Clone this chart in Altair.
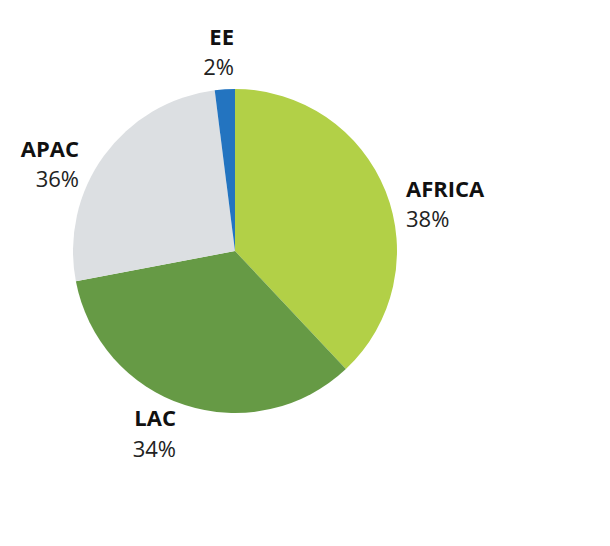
import altair as alt
import pandas as pd

regions = ["AFRICA", "LAC", "APAC", "EE"]
shares = [38, 34, 26, 2]
pct_labels = ["38%", "34%", "36%", "2%"]
colors = ["#b2d047", "#669a45", "#dcdfe2", "#2374c0"]

df = pd.DataFrame({"region": regions, "share": shares, "order": list(range(len(regions))),
                   "pct": pct_labels})

W, H = 594, 530
CX, CY, R = 227, 243, 162
FONT = "Open Sans"

pie = alt.Chart(df).mark_arc(radius=R).encode(
    theta=alt.Theta("share:Q", stack=True),
    order=alt.Order("order:Q"),
    color=alt.Color("region:N", scale=alt.Scale(domain=regions, range=colors), legend=None),
    x=alt.value(CX),
    y=alt.value(CY),
)

# label layout (pixel anchors, alignment)
layout = {
    "EE": (226, 37, 67, "right"),
    "AFRICA": (398, 189, 219, "left"),
    "APAC": (71, 149, 179, "right"),
    "LAC": (168, 418, 449, "right"),
}

layers = [pie]
for reg in regions:
    x, y1, y2, al = layout[reg]
    sub = alt.Chart(df).transform_filter(alt.datum.region == reg)
    layers.append(sub.mark_text(font=FONT, fontSize=22, fontWeight="bold", color="#111111",
                                align=al, baseline="alphabetic").encode(
        text="region:N", x=alt.value(x), y=alt.value(y1)))
    layers.append(sub.mark_text(font=FONT, fontSize=22, fontWeight="normal", color="#222222",
                                align=al, baseline="alphabetic").encode(
        text="pct:N", x=alt.value(x), y=alt.value(y2)))

chart = alt.layer(*layers).properties(
    width=W, height=H, padding=0, autosize=alt.AutoSizeParams(type="none")
).configure_view(stroke=None)

chart.save("out.html", embed_options={"renderer": "svg", "actions": False})
